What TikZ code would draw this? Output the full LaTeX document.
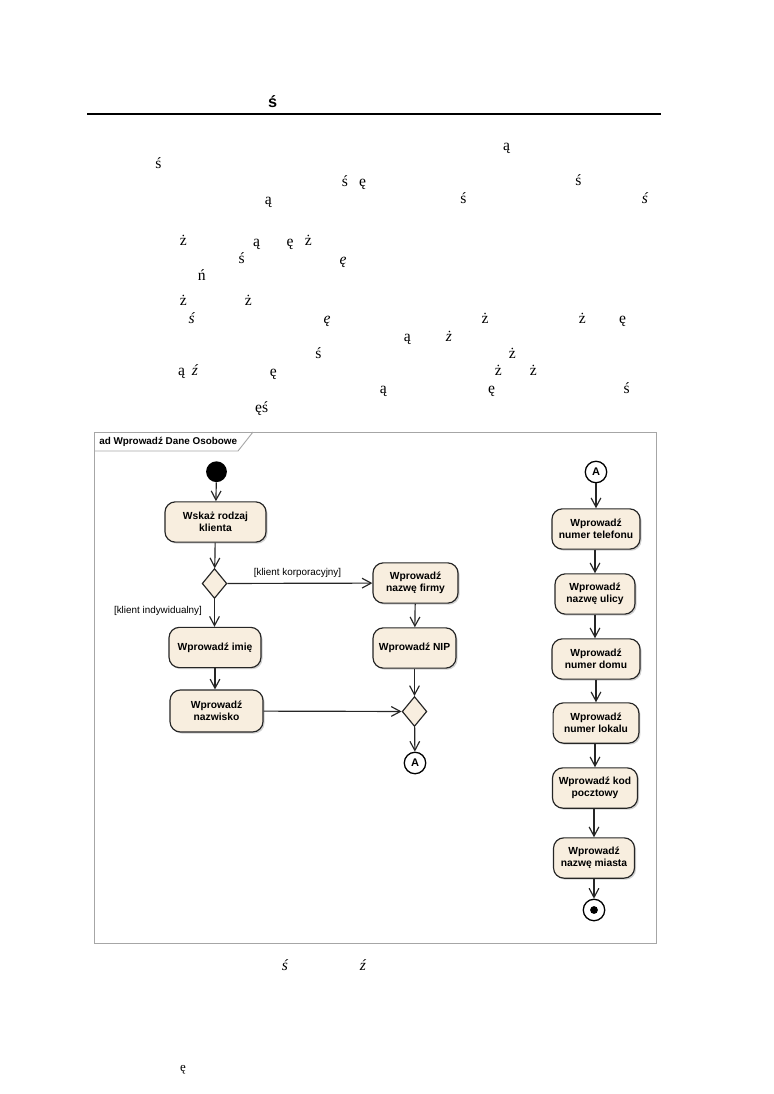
\documentclass[tikz,border=0pt]{standalone}
\usepackage{fontspec}
\setmainfont{Liberation Serif}
\setsansfont{Liberation Sans}
\usetikzlibrary{arrows.meta,positioning,shapes.geometric,shadows}
\definecolor{actfill}{HTML}{F8EEDF}
\definecolor{framegray}{HTML}{A6A6A6}

\begin{document}
\begin{tikzpicture}[x=0.769pt,y=-0.769pt,>={Straight Barb[length=7pt,width=7.5pt]},
  glyph/.style={inner sep=0pt,text height=1.3ex,text depth=0pt,font=\fontsize{12}{14}\selectfont},
  glyphit/.style={glyph,font=\fontsize{12}{14}\selectfont\itshape},
  act/.style={draw=black!85,line width=0.9pt,fill=actfill,rounded corners=8pt,align=center,
    font=\sffamily\bfseries\fontsize{7.9}{9.3}\selectfont,minimum height=31pt,inner sep=1pt,
    drop shadow={opacity=1,fill=black!18,shadow xshift=1.2pt,shadow yshift=-1.2pt}},
  dec/.style={diamond,draw=black!85,line width=0.9pt,fill=actfill,minimum width=19pt,minimum height=23pt,inner sep=0pt},
  conn/.style={draw=black!85,line width=0.9pt,->},
  guard/.style={font=\sffamily\fontsize{7.6}{9}\selectfont,inner sep=0pt},
  pin/.style={circle,draw=black,line width=1pt,fill=white,minimum size=16.5pt,inner sep=0pt,font=\sffamily\bfseries\fontsize{8.5}{9}\selectfont}]
\useasboundingbox (0,0) rectangle (774,1094);

% ---------- page remnants ----------
\node[inner sep=0pt,font=\sffamily\bfseries\fontsize{12.5}{14}\selectfont,text height=1.3ex] (head) at (272.7,103.3) {ś};
\draw[line width=1.5pt] (87,114) -- (661,114);
\foreach \gx/\gy/\gc [count=\gi] in {506.7/146.7/ą, 158.3/165/ś, 345/182.5/ś, 362.5/182.5/ę, 578.3/182/ś,
    268.3/200.5/ą, 463.3/200/ś, 183.3/242/ż, 256.7/243/ą, 290/243/ę, 308.3/242/ż, 241.7/260/ś,
    201.7/277/ń, 183.3/302/ż, 248.3/302/ż, 485/320/ż, 582.3/320/ż, 622.7/320/ę, 407.3/337.3/ą,
    318.3/355/ś, 512.3/355/ż, 181.7/372/ą, 273.3/373/ę, 498.3/372/ż, 533.3/372/ż,
    383.3/389.3/ą, 491.7/389.3/ę, 626.7/389.3/ś, 261.7/408.3/ęś}
  \node[glyph] (g\gi) at (\gx,\gy) {\gc};
\foreach \gx/\gy/\gc [count=\gi] in {645/200/ś, 343/261/ę, 191.7/320/ś, 327/320/ę, 449/337.3/ż,
    195/372/ź, 285/967/ś, 363/967/ź}
  \node[glyphit] (gi\gi) at (\gx,\gy) {\gc};
\node[glyph,font=\fontsize{10}{12}\selectfont] (foot) at (183,1068) {ę};

% ---------- activity frame ----------
\draw[framegray,line width=0.7pt] (94,432) rectangle (656,943);
\draw[framegray,line width=0.7pt] (94,451) -- (238,451) -- (253,432);
\node[anchor=west,inner sep=0pt,font=\sffamily\bfseries\fontsize{7.6}{9}\selectfont] (title) at (99,442) {ad Wprowadź Dane Osobowe};

% ---------- left flow ----------
\node[circle,fill=black,minimum size=16pt,inner sep=0pt] (start) at (216.5,471.7) {};
\node[act,minimum width=77.7pt] (wskaz) at (215.5,522) {Wskaż rodzaj\\klienta};
\node[dec] (split) at (214.5,583.5) {};
\node[act,minimum width=65.4pt] (firma) at (415.5,583) {Wprowadź\\nazwę firmy};
\node[act,minimum width=70.7pt] (imie) at (215,647.5) {Wprowadź imię};
\node[act,minimum width=63.8pt] (nip) at (414.5,648) {Wprowadź NIP};
\node[act,minimum width=71.5pt,minimum height=32.3pt] (nazwisko) at (216.5,711) {Wprowadź\\nazwisko};
\node[dec] (merge) at (414.5,711.5) {};
\node[pin] (pinA) at (415,763) {A};
\node[guard] (gkorp) at (297.5,573) {[klient korporacyjny]};
\node[guard] (gind) at (158,611) {[klient indywidualny]};

\draw[conn] (start) -- (wskaz);
\draw[conn] (wskaz) -- (split);
\draw[conn] (split) -- (firma);
\draw[conn] (split) -- (split |- imie.north);
\draw[conn] (firma) -- (nip);
\draw[conn] (imie) -- (imie |- nazwisko.north);
\draw[conn] (nip) -- (merge);
\draw[conn] (nazwisko) -- (merge);
\draw[conn] (merge) -- (pinA);

% ---------- right flow ----------
\node[pin] (pinB) at (596,472) {A};
\node[act,minimum width=67.7pt] (tel) at (596,529) {Wprowadź\\numer telefonu};
\node[act,minimum width=61.5pt] (ulica) at (595,594) {Wprowadź\\nazwę ulicy};
\node[act,minimum width=67.7pt] (dom) at (596,659) {Wprowadź\\numer domu};
\node[act,minimum width=66pt] (lokal) at (596,723) {Wprowadź\\numer lokalu};
\node[act,minimum width=65.4pt] (kod) at (595,788) {Wprowadź kod\\pocztowy};
\node[act,minimum width=62.3pt] (miasto) at (594,858) {Wprowadź\\nazwę miasta};
\node[pin] (stop) at (594,910) {};
\fill (stop) circle (3pt);

\draw[conn] (pinB) -- (pinB |- tel.north);
\draw[conn] (tel.south -| ulica) -- (ulica);
\draw[conn] (ulica) -- (ulica |- dom.north);
\draw[conn] (dom.south -| lokal) -- (lokal);
\draw[conn] (lokal.south -| kod) -- (kod);
\draw[conn] (kod.south -| miasto) -- (miasto);
\draw[conn] (miasto) -- (stop);
\end{tikzpicture}
\end{document}
